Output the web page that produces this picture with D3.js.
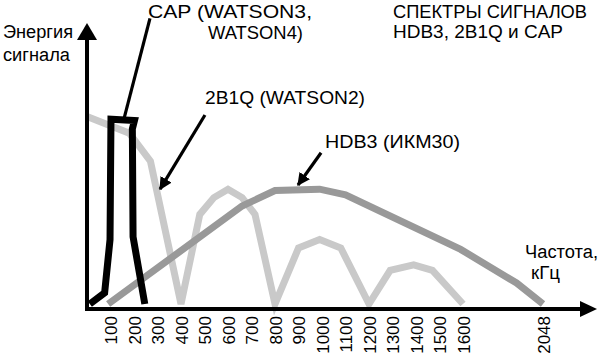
<!DOCTYPE html>
<html>
<head>
<meta charset="utf-8">
<script src="https://cdn.jsdelivr.net/npm/d3@7"></script>
<style>
  html, body { margin: 0; padding: 0; background: #fff; }
  svg { display: block; font-family: "Liberation Sans", Arial, sans-serif; }
</style>
</head>
<body>
<svg id="chart" width="600" height="363"></svg>
<script>
// ---- data ----
const freqTicks = [100, 200, 300, 400, 500, 600, 700, 800, 900, 1000, 1100, 1200, 1300, 1400, 1500, 1600, 2048];
const freqBreaks = [0, 1600, 2048];

// [frequency kHz, relative energy]
const series2B1Q = [[0,67],[180,61],[270,51],[400,0],[480,32],[540,38],[600,41],[660,38],[715,32],[800,0],
                    [900,20],[990,23],[1080,20],[1200,0],[1290,12],[1390,14],[1470,12],[1600,0]];
const seriesHDB3 = [[90,0],[660,35],[800,40.5],[990,41],[1100,39],[1590,19.5],[1900,7.5],[2048,0]];
const seriesCAP  = [[12,0],[75,4],[98,23],[102,66],[202,65.5],[193,62.5],[196,24],[246,0]];

// annotation pointers: [from f, from v, to f, to v]
const pointerCAP  = [268, 102, 157, 66];
const pointer2B1Q = [502, 67.5, 311, 41];
const pointerHDB3 = [996, 54, 898, 42.5];

const svg = d3.select("#chart");

// ---- scales ----
const x = d3.scaleLinear().domain(freqBreaks).range([87, 463, 543]);
const y = d3.scaleLinear().domain([0, 100]).range([304, 24]);
const axisY0 = 309;

const line = d3.line().x(d => x(d[0])).y(d => y(d[1]));

// ---- curves ----
svg.append("path").datum(series2B1Q).attr("d", line)
  .attr("fill", "none").attr("stroke", "#c9c9c9").attr("stroke-width", 7).attr("stroke-linejoin", "miter");
svg.append("path").datum(seriesHDB3).attr("d", line)
  .attr("fill", "none").attr("stroke", "#999999").attr("stroke-width", 7).attr("stroke-linejoin", "miter");
svg.append("path").datum(seriesCAP).attr("d", line)
  .attr("fill", "none").attr("stroke", "#000").attr("stroke-width", 7).attr("stroke-linejoin", "miter");

// ---- axes ----
const xAxis = d3.axisBottom(x).tickValues(freqTicks).tickSize(0).tickFormat(d3.format("d"));
const gx = svg.append("g").attr("transform", `translate(0,${axisY0})`).call(xAxis);
gx.select(".domain").remove();
gx.selectAll("text")
  .attr("transform", "rotate(-90)")
  .attr("x", -7).attr("y", 0).attr("dy", "0.36em")
  .style("text-anchor", "end")
  .style("font-size", "17px")
  .style("font-family", "'Liberation Sans', Arial, sans-serif")
  .attr("fill", "#000");

const xLeft = x.range()[0];
svg.append("line").attr("x1", xLeft - 2).attr("x2", 582).attr("y1", axisY0).attr("y2", axisY0)
  .attr("stroke", "#000").attr("stroke-width", 4);
svg.append("path").attr("d", `M597,${axisY0} L580,${axisY0 - 8} L580,${axisY0 + 8} Z`).attr("fill", "#000");

svg.append("line").attr("x1", xLeft).attr("x2", xLeft).attr("y1", axisY0 + 2).attr("y2", 38)
  .attr("stroke", "#000").attr("stroke-width", 4);
svg.append("path").attr("d", `M${xLeft},23 L${xLeft - 10},40 L${xLeft + 10},40 Z`).attr("fill", "#000");

// ---- pointers ----
const defs = svg.append("defs");
defs.append("marker").attr("id", "ah").attr("viewBox", "0 0 10 10").attr("refX", 9).attr("refY", 5)
  .attr("markerWidth", 4).attr("markerHeight", 4).attr("orient", "auto").attr("markerUnits", "strokeWidth")
  .append("path").attr("d", "M0,0 L10,5 L0,10 Z").attr("fill", "#000");

function pointer(p, arrow) {
  const l = svg.append("line")
    .attr("x1", x(p[0])).attr("y1", y(p[1])).attr("x2", x(p[2])).attr("y2", y(p[3]))
    .attr("stroke", "#000").attr("stroke-width", 3.2);
  if (arrow) l.attr("marker-end", "url(#ah)");
}
pointer(pointerCAP, false);
pointer(pointer2B1Q, true);
pointer(pointerHDB3, true);

// ---- texts ----
function label(str, px, py, w) {
  const t = svg.append("text").attr("x", px).attr("y", py).text(str)
    .style("font-size", "18px").attr("fill", "#000");
  if (w) t.attr("textLength", w).attr("lengthAdjust", "spacingAndGlyphs");
  return t;
}
label("Энергия", 3, 38, 70);
label("сигнала", 3, 61, 67);
label("CAP (WATSON3,", 148, 18, 164);
label("WATSON4)", 208, 39, 95);
label("СПЕКТРЫ СИГНАЛОВ", 393, 18, 194);
label("HDB3, 2B1Q и CAP", 393, 38, 170);
label("2B1Q (WATSON2)", 205, 104, 160);
label("HDB3 (ИКМ30)", 325, 148, 135);
label("Частота,", 525, 258, 73);
label("кГц", 531, 279, 29);
</script>
</body>
</html>
